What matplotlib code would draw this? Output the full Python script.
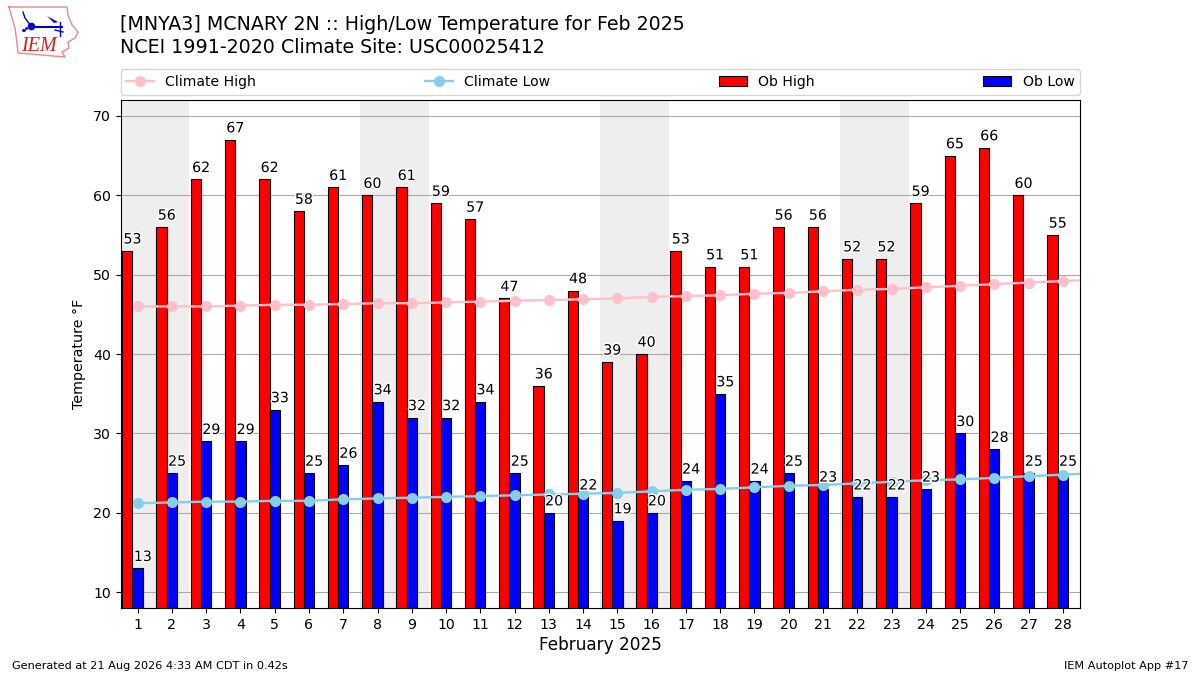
import matplotlib
matplotlib.use('Agg')
import matplotlib.pyplot as plt
import matplotlib.patheffects as PathEffects
import numpy as np

days = np.arange(1, 29)
clim_days = np.arange(1, 30)
ob_high = [53, 56, 62, 67, 62, 58, 61, 60, 61, 59, 57, 47, 36, 48,
           39, 40, 53, 51, 51, 56, 56, 52, 52, 59, 65, 66, 60, 55]
ob_low = [13, 25, 29, 29, 33, 25, 26, 34, 32, 32, 34, 25, 20, 22,
          19, 20, 24, 35, 24, 25, 23, 22, 22, 23, 30, 28, 25, 25]
clim_high = [46.0, 46.0, 46.0, 46.1, 46.2, 46.2, 46.3, 46.4, 46.4, 46.5,
             46.6, 46.7, 46.8, 46.9, 47.0, 47.2, 47.3, 47.4, 47.6, 47.7,
             47.9, 48.1, 48.2, 48.4, 48.6, 48.8, 49.0, 49.2, 49.4]
clim_low = [21.2, 21.3, 21.4, 21.4, 21.5, 21.5, 21.7, 21.8, 21.9, 22.0,
            22.1, 22.2, 22.3, 22.4, 22.5, 22.7, 22.9, 23.0, 23.2, 23.4,
            23.5, 23.7, 23.9, 24.1, 24.2, 24.4, 24.6, 24.8, 25.0]
weekend_starts = [1, 8, 15, 22]

W, H = 1200, 675
fig = plt.figure(figsize=(12, 6.75), dpi=100)
ax = fig.add_axes([120.5 / W, 1 - 608 / H, 959.5 / W, 508 / H])

for d in weekend_starts:
    ax.axvspan(d - 0.5, d + 1.5, color='#EEEEEE', zorder=0, lw=0)

ax.grid(axis='y', color='#aaaaaa', lw=0.8)
ax.set_axisbelow(True)

width = 0.3
ax.bar(days - width, ob_high, width, color='r', edgecolor='k', lw=0.8,
       label='Ob High', zorder=2)
ax.bar(days, ob_low, width, color='b', edgecolor='k', lw=0.8,
       label='Ob Low', zorder=2)
ax.plot(clim_days, clim_high, color='pink', marker='o', ms=7, lw=1.7,
        label='Climate High', zorder=3)
ax.plot(clim_days, clim_low, color='skyblue', marker='o', ms=7, lw=1.7,
        label='Climate Low', zorder=3)

stroke = [PathEffects.withStroke(linewidth=2, foreground='white')]
for d, hi, lo in zip(days, ob_high, ob_low):
    ax.text(d - 0.15, hi + 0.55, str(hi), ha='center', va='bottom', fontsize=10.2,
            path_effects=stroke, zorder=4)
    ax.text(d + 0.15, lo + 0.55, str(lo), ha='center', va='bottom', fontsize=10.2,
            path_effects=stroke, zorder=4)

ax.set_xlim(0.5, 28.5)
ax.set_ylim(8, 72)
ax.set_xticks(days)
ax.set_yticks(range(10, 71, 10))
ax.tick_params(labelsize=10.2)
ax.set_ylabel('Temperature °F', fontsize=10.3, labelpad=5)
ax.set_xlabel('February 2025', fontsize=12.2, labelpad=3)

handles, labels = ax.get_legend_handles_labels()
order = [labels.index(n) for n in ['Climate High', 'Climate Low', 'Ob High', 'Ob Low']]
ax.legend([handles[i] for i in order], [labels[i] for i in order], ncol=4,
          mode='expand', loc='lower left', bbox_to_anchor=(0, 1.0105, 1, 0.05),
          borderaxespad=0, fontsize=10.1)

fig.text(120 / W, 1 - 57 / H, '[MNYA3] MCNARY 2N :: High/Low Temperature for Feb 2025\n'
         'NCEI 1991-2020 Climate Site: USC00025412', fontsize=13.7, linespacing=1.25,
         ha='left', va='bottom')
fig.text(12 / W, 1 - 671 / H, 'Generated at 21 Aug 2026 4:33 AM CDT in 0.42s',
         fontsize=8.1, ha='left', va='bottom')
fig.text(1188 / W, 1 - 671 / H, 'IEM Autoplot App #17', fontsize=8.1, ha='right', va='bottom')

# rough IEM logo, drawn in pixel coordinates
logo = fig.add_axes([0, 1 - 60 / H, 84 / W, 60 / H])
logo.set_xlim(0, 84)
logo.set_ylim(60, 0)
logo.axis('off')
outline_x = [9, 67, 68, 72, 78, 75, 68, 69, 62, 65, 18, 17, 15, 12, 9]
outline_y = [7, 7, 15, 25, 32, 38, 42, 48, 52, 57, 53, 43, 28, 18, 7]
logo.plot(outline_x, outline_y, color='#e88a8a', lw=1)
logo.plot([31, 62], [27, 27], color='#0000cc', lw=1.5)
logo.plot([31], [26], 'o', color='#0000cc', ms=4.5)
logo.plot([23, 25, 31], [12, 18, 26], color='#0000cc', lw=1)
logo.plot([24, 26, 23], [30, 28, 30], '.', color='#0000cc', ms=2)
logo.fill([47, 58, 54], [16, 22, 23], color='#0000cc', lw=0)
logo.plot([60, 60], [22, 36], color='#0000cc', lw=1)
logo.plot([55, 63], [30, 32], color='#0000cc', lw=1)
logo.text(21, 51, 'IEM', color='#d62020', fontsize=14.5, family='Liberation Serif',
          style='italic', ha='left', va='baseline')

fig.savefig('out.png', dpi=100)
